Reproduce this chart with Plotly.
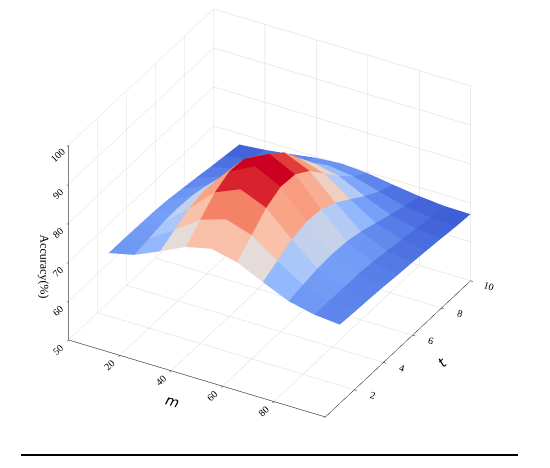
import plotly.graph_objects as go

# grid of the surface
m_values = [10, 20, 30, 40, 50, 60, 70, 80, 90, 100]
t_values = [1, 2, 3, 4, 5, 6, 7, 8, 9, 10]

# accuracy (%), one row per t, one column per m
accuracy = [
    [70.8, 72.3, 75.2, 78.3, 79.8, 78.3, 75.2, 72.3, 70.8, 70.2],
    [70.8, 73.0, 77.2, 81.8, 83.9, 81.8, 77.2, 73.0, 70.8, 69.9],
    [70.7, 73.7, 79.2, 85.3, 88.1, 85.3, 79.2, 73.7, 70.7, 69.7],
    [70.6, 73.9, 80.2, 87.2, 90.5, 87.2, 80.2, 73.9, 70.6, 69.4],
    [70.3, 73.6, 79.9, 86.9, 90.2, 86.9, 79.9, 73.6, 70.3, 69.0],
    [69.7, 72.7, 78.1, 84.3, 87.1, 84.3, 78.1, 72.7, 69.7, 68.7],
    [69.1, 71.4, 75.5, 80.1, 82.2, 80.1, 75.5, 71.4, 69.1, 68.3],
    [68.4, 70.0, 72.8, 76.0, 77.4, 76.0, 72.8, 70.0, 68.4, 67.9],
    [67.8, 68.7, 70.5, 72.4, 73.3, 72.4, 70.5, 68.7, 67.8, 67.4],
    [67.2, 67.8, 68.7, 69.7, 70.2, 69.7, 68.7, 67.8, 67.2, 67.1],
]

m_ticks = [20, 40, 60, 80, 100]
t_ticks = [2, 4, 6, 8, 10]
z_ticks = [50, 60, 70, 80, 90, 100]

# coolwarm, a little brighter as in the shaded original
coolwarm = [
    [0.0, "#3f5fd6"], [0.125, "#5a82ea"], [0.25, "#7ba4fa"],
    [0.375, "#a2c4fe"], [0.5, "#e4dcd9"], [0.625, "#f8c4ac"],
    [0.75, "#f99f82"], [0.875, "#f06a4e"], [1.0, "#cc0020"],
]

# faceted surface like matplotlib: one flat colour per grid cell
nm, nt = len(m_values), len(t_values)
xs, ys, zs = [], [], []
for r in range(nt):
    for c in range(nm):
        xs.append(m_values[c])
        ys.append(t_values[r])
        zs.append(accuracy[r][c])

ii, jj, kk, cell = [], [], [], []
for r in range(nt - 1):
    for c in range(nm - 1):
        a = r * nm + c
        b = a + 1
        d = a + nm
        e = d + 1
        avg = (accuracy[r][c] + accuracy[r][c + 1] + accuracy[r + 1][c] + accuracy[r + 1][c + 1]) / 4
        # two triangles per cell: (a, b, e) and (a, e, d)
        ii += [a, a]
        jj += [b, e]
        kk += [e, d]
        cell += [avg, avg]

fig = go.Figure()
fig.add_trace(go.Mesh3d(
    x=xs, y=ys, z=zs, i=ii, j=jj, k=kk,
    intensity=cell, intensitymode="cell",
    colorscale=coolwarm, showscale=False, flatshading=True,
    lighting=dict(ambient=1.0, diffuse=0.08, specular=0.0, roughness=1.0, fresnel=0.0),
    lightposition=dict(x=-1000, y=-1000, z=3000),
))

axis_style = dict(
    showbackground=False, gridcolor="#d9d9d9", gridwidth=1,
    showline=True, linecolor="black", linewidth=1,
    ticks="outside", tickcolor="black", ticklen=3,
    zeroline=False, showspikes=False,
    tickfont=dict(family="Liberation Serif", size=11, color="black"),
)

fig.update_layout(
    width=550, height=468,
    paper_bgcolor="white",
    margin=dict(l=0, r=0, t=0, b=0),
    font=dict(family="Liberation Serif", color="black"),
    scene=dict(
        domain=dict(x=[0.0, 0.95], y=[0.125, 1.0]),
        xaxis=dict(axis_style, range=[0, 100], tickvals=m_ticks,
                   title=dict(text="<i>m</i>", font=dict(family="DejaVu Sans", size=14))),
        yaxis=dict(axis_style, range=[0, 10], tickvals=t_ticks,
                   title=dict(text="<i>t</i>", font=dict(family="DejaVu Sans", size=14))),
        zaxis=dict(axis_style, range=[50, 100], tickvals=z_ticks,
                   title=dict(text="Accuracy(%)", font=dict(family="Liberation Serif", size=12))),
        aspectmode="manual",
        aspectratio=dict(x=1.44, y=1.44, z=1.12),
        camera=dict(eye=dict(x=0.584, y=-1.033, z=0.742), center=dict(x=0, y=0, z=0),
                    projection=dict(type="orthographic")),
    ),
    shapes=[dict(type="line", xref="paper", yref="paper",
                 x0=13 / 550, x1=510 / 550, y0=1 - 447 / 468, y1=1 - 447 / 468,
                 line=dict(color="black", width=2))],
)

fig.write_html("out.html")
